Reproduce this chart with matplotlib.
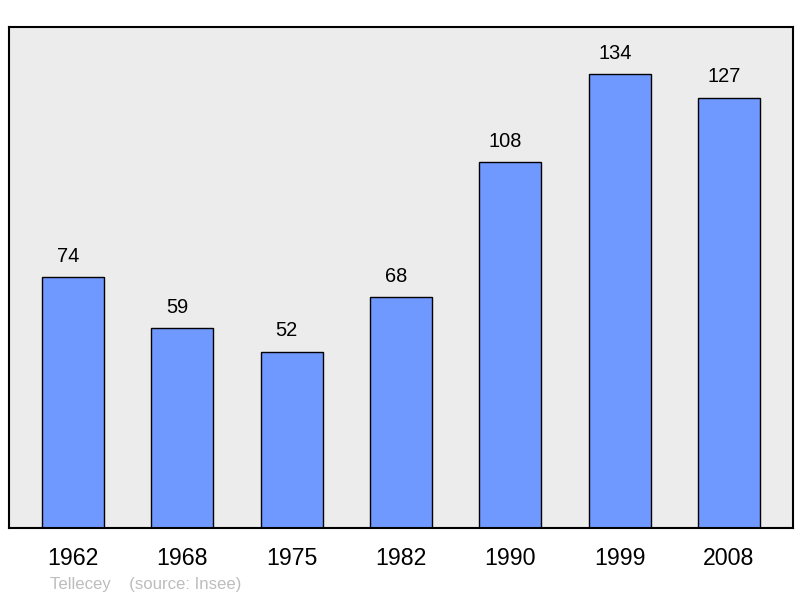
import matplotlib.pyplot as plt

years = ['1962', '1968', '1975', '1982', '1990', '1999', '2008']
population = [74, 59, 52, 68, 108, 134, 127]

plt.rcParams['font.family'] = ['Liberation Sans', 'DejaVu Sans']

fig = plt.figure(figsize=(8, 5.98), dpi=100)
ax = fig.add_axes([9 / 800, 70 / 598, 784 / 800, 501 / 598])
ax.set_facecolor('#ececec')

x = list(range(len(years)))
bars = ax.bar(x, population, width=0.567, color='#7099ff', edgecolor='black', linewidth=1.0)

# value labels sit a little left of the bar centre, as in the original
for b, v in zip(bars, population):
    ax.annotate(str(v), (b.get_x() + b.get_width() / 2, v), xytext=(-3.5, 11),
                textcoords='offset points', ha='center', va='baseline', fontsize=14.4)

ax.set_xlim(-0.585, 6.585)
ax.set_ylim(0, 147.8)
ax.set_yticks([])
ax.set_xticks(x)
ax.set_xticklabels(years, fontsize=16.7)
ax.tick_params(axis='x', length=0, pad=14)
for s in ax.spines.values():
    s.set_linewidth(1.5)
    s.set_color('black')

fig.text(50 / 800, 1 - 589 / 598, 'Tellecey    (source: Insee)', fontsize=12.1,
         color='#bdbdbd', ha='left', va='baseline')

fig.savefig('out.png', dpi=100)
